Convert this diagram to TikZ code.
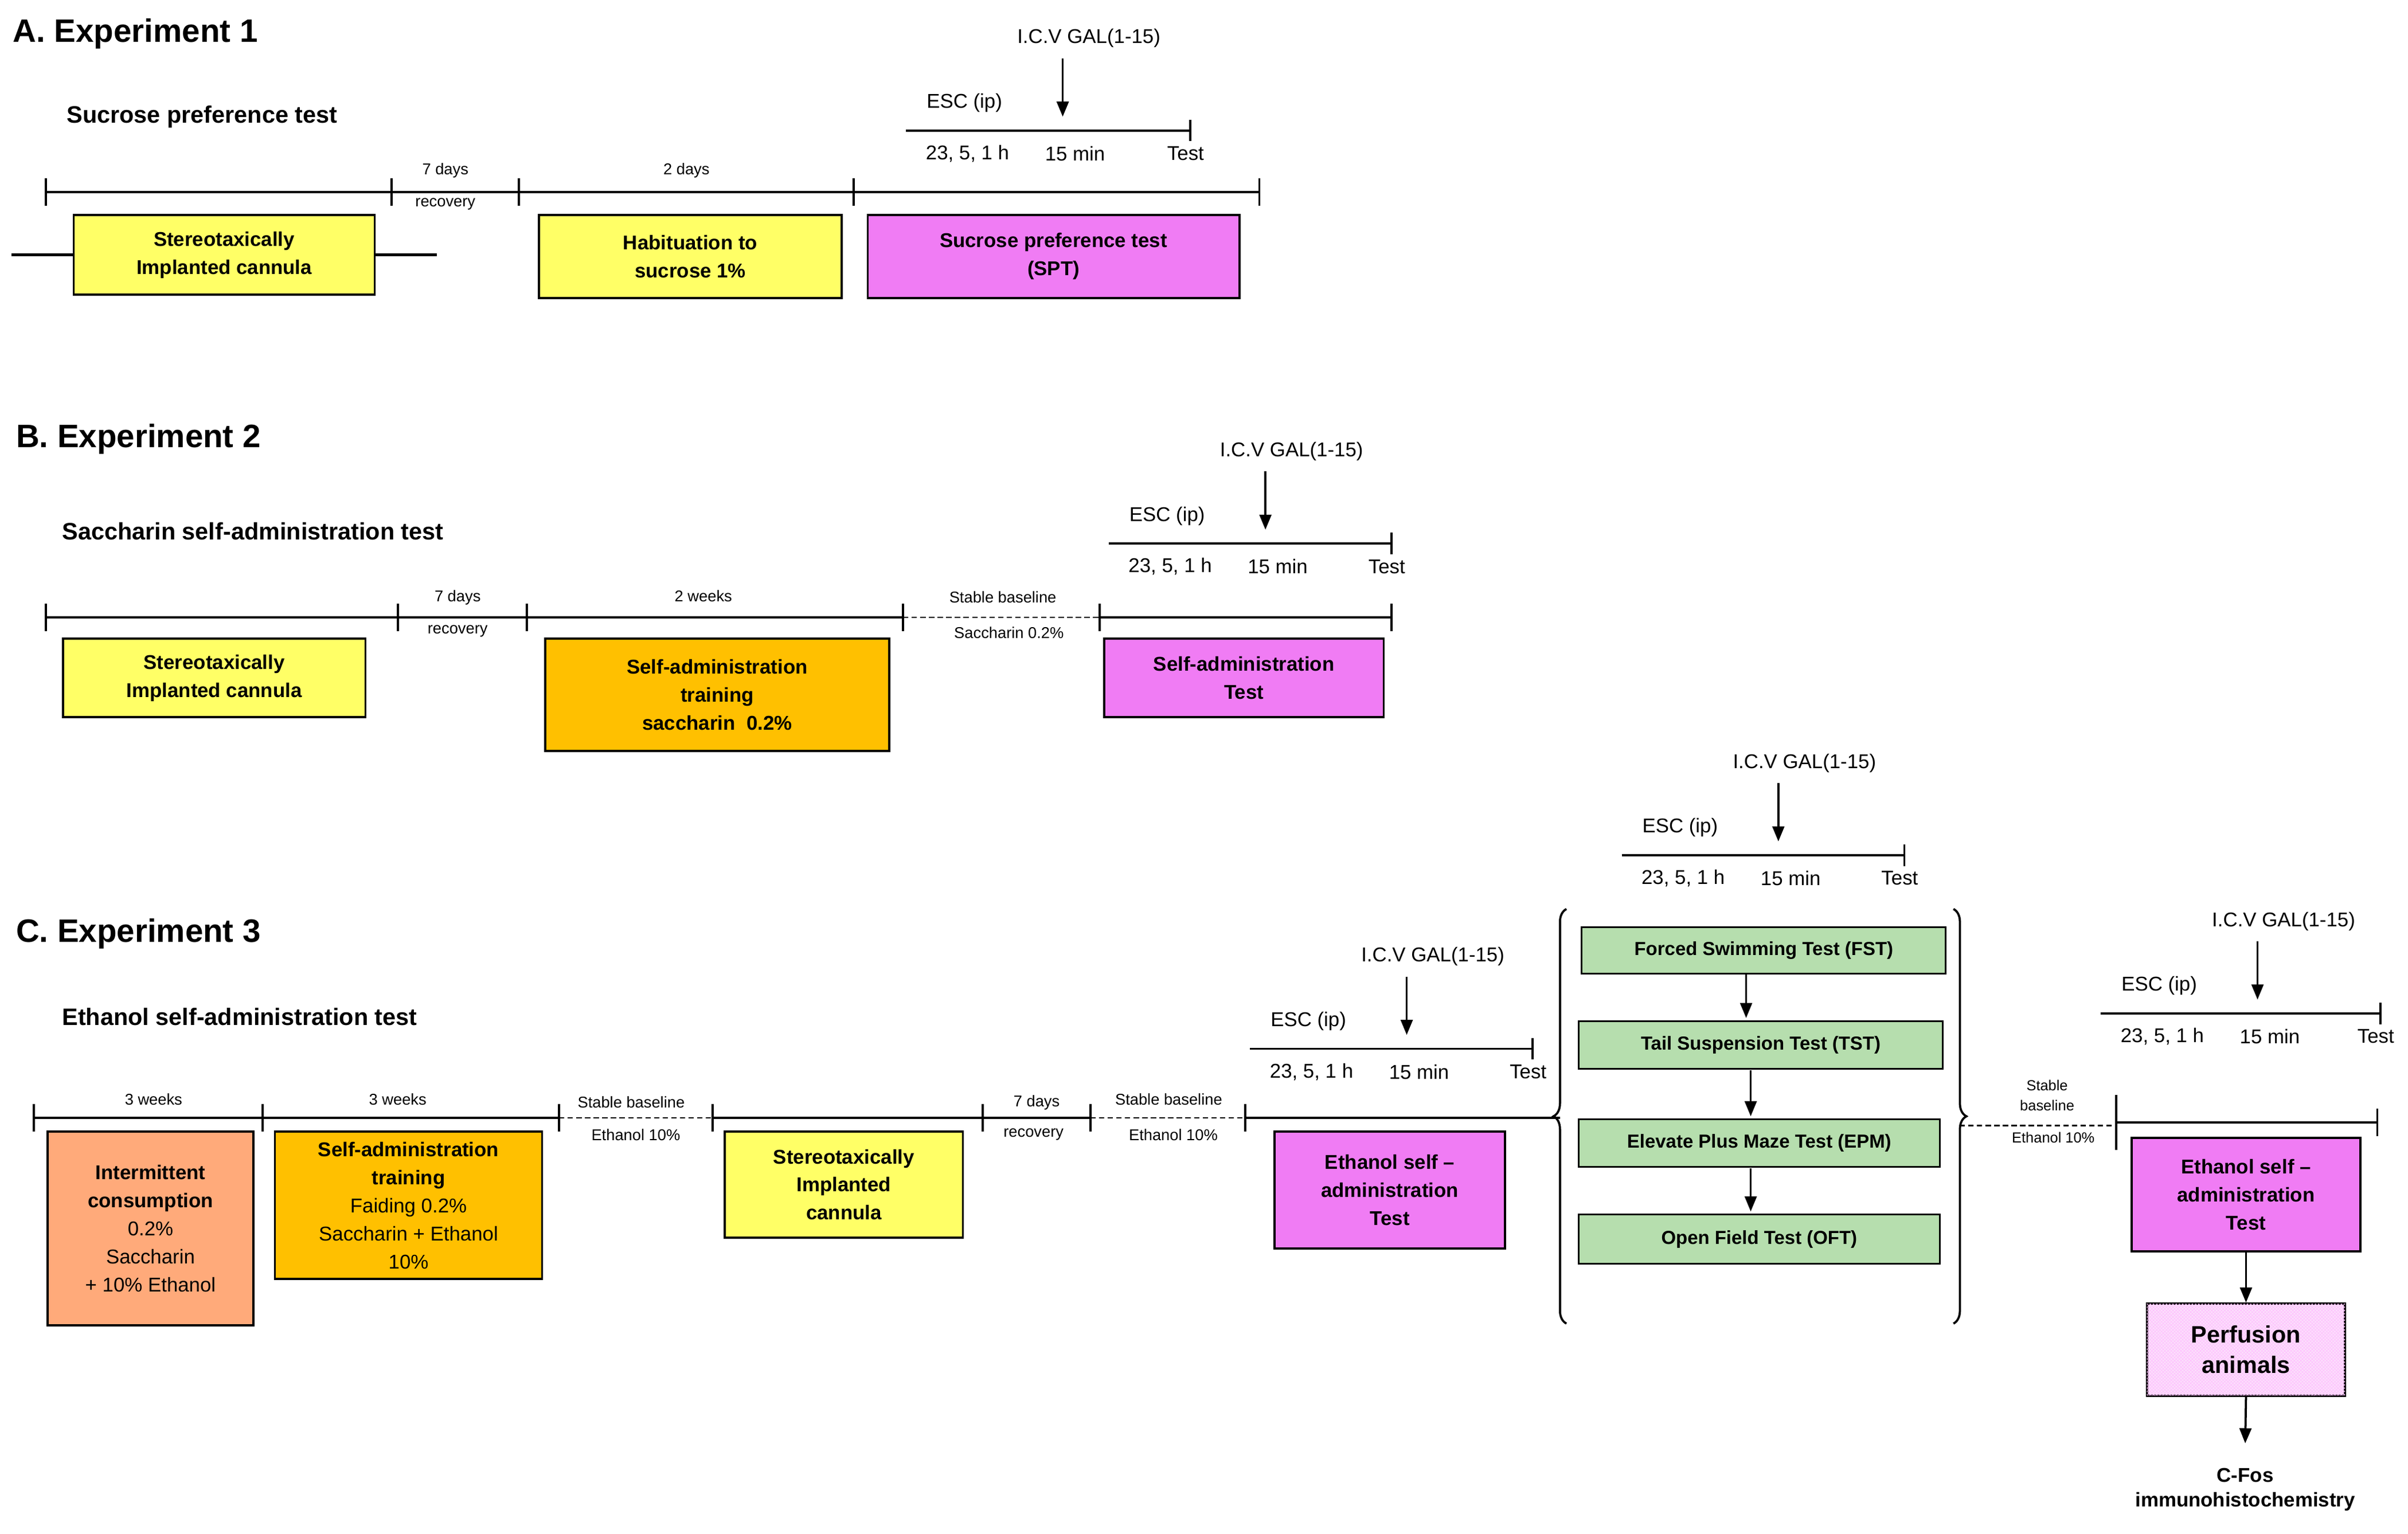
\documentclass[tikz,border=0pt]{standalone}
\usepackage{fontspec}
\setmainfont{Liberation Sans}
\usetikzlibrary{decorations.pathreplacing,patterns,arrows.meta}
\definecolor{cyel}{HTML}{FFFF66}
\definecolor{cmag}{HTML}{F07CF4}
\definecolor{cora}{HTML}{FFC000}
\definecolor{csal}{HTML}{FFAA7A}
\definecolor{cgrn}{HTML}{B6DEAE}
\definecolor{cpnk}{HTML}{FBE0FB}
\tikzset{
 box/.style={draw,line width=2pt,align=center,font=\fontsize{18.5}{26}\selectfont\bfseries,inner sep=0pt},
 gbox/.style={draw,line width=1.6pt,fill=cgrn,align=center,font=\fontsize{17.5}{22}\selectfont\bfseries,inner sep=0pt},
 tl/.style={line width=2pt},
 dl/.style={line width=1.2pt,dash pattern=on 5pt off 3pt},
 sm/.style={font=\fontsize{14.5}{17}\selectfont},
 md/.style={font=\fontsize{18.5}{22}\selectfont},
 ttl/.style={font=\fontsize{30}{34}\selectfont\bfseries,anchor=west},
 sub/.style={font=\fontsize{22}{26}\selectfont\bfseries,anchor=west},
 arr/.style={line width=2pt,-{Triangle[length=14pt,width=11pt]}},
}
\newcommand{\myinset}[4]{% name, xstart, y, xend
 \coordinate (#1s) at (#2,#3); \coordinate (#1e) at (#4,#3);
 \draw[tl] (#1s) -- (#1e);
 \draw[tl] ($(#1e)+(0,-7)$) -- ($(#1e)+(0,7)$);
 \node[md] (#1esc) at ($(#1s)+(38,-18)$) {ESC (ip)};
 \coordinate (#1a) at ($(#1s)+(102,-47)$); \coordinate (#1b) at ($(#1s)+(102,-9)$);
 \draw[arr] (#1a) -- (#1b);
 \node[md] (#1icv) at ($(#1s)+(119,-60)$) {I.C.V GAL(1-15)};
 \node[md] (#1t1) at ($(#1s)+(40,15)$) {23, 5, 1 h};
 \node[md] (#1t2) at ($(#1s)+(110,15)$) {15 min};
 \node[md] (#1t3) at ($(#1e)+(-3,15)$) {Test};
}
\newcommand{\tick}[1]{\draw[tl] ($(#1)+(0,-9)$) -- ($(#1)+(0,9)$);}
\usetikzlibrary{calc}
\begin{document}
\begin{tikzpicture}[x=0.05cm,y=-0.05cm]
\useasboundingbox (0,0) rectangle (1568,999);
\fill[white] (0,0) rectangle (1568,999);
% ---------- A
\node[ttl] (tA) at (6,22) {A. Experiment 1};
\node[sub] (sA) at (41,76) {Sucrose preference test};
\foreach \n/\x in {a1/30,a2/255,a3/338,a4/556,a5/820}{\coordinate (\n) at (\x,125); \tick{\n}}
\draw[tl] (a1) -- (a5);
\node[sm] (ad) at (290,111) {7 days};
\node[sm] (ar) at (290,133) {recovery};
\node[sm] (a2d) at (447,111) {2 days};
\node[box,fill=cyel,minimum width=196\pgflinewidth] (A1) at (146,166) {};
\node[box,fill=cyel] (A1) [minimum width=9.8cm,minimum height=2.6cm] at (146,166) {Stereotaxically\\Implanted cannula};
\node[box,fill=cyel,minimum width=9.85cm,minimum height=2.7cm] (A2) at (449.5,167) {Habituation to\\sucrose 1\%};
\node[box,fill=cmag,minimum width=12.1cm,minimum height=2.7cm] (A3) at (686,167) {Sucrose preference test\\(SPT)};
\myinset{iA}{590}{85}{775}
% ---------- B
\node[ttl] (tB) at (8,286) {B. Experiment 2};
\node[sub] (sB) at (38,346) {Saccharin self-administration test};
\foreach \n/\x in {b1/30,b2/259,b3/343,b4/588,b5/716,b6/906}{\coordinate (\n) at (\x,402); \tick{\n}}
\draw[tl] (b1) -- (b4); \draw[dl] (b4) -- (b5); \draw[tl] (b5) -- (b6);
\node[sm] (bd) at (298,389) {7 days};
\node[sm] (br) at (298,411) {recovery};
\node[sm] (bw) at (458,388) {2 weeks};
\node[sm] (bs) at (653,389) {Stable baseline};
\node[sm] (bsa) at (657,412) {Saccharin 0.2\%};
\node[box,fill=cyel,minimum width=9.85cm,minimum height=2.55cm] (B1) at (139.5,441.5) {Stereotaxically\\Implanted cannula};
\node[box,fill=cora,minimum width=11.2cm,minimum height=3.65cm] (B2) at (467,452.5) {Self-administration\\training\\saccharin\ \ 0.2\%};
\node[box,fill=cmag,minimum width=9.1cm,minimum height=2.55cm] (B3) at (810,441.5) {Self-administration\\Test};
\myinset{iB}{722}{354}{906}
% ---------- C
\node[ttl] (tC) at (8,608) {C. Experiment 3};
\node[sub] (sC) at (38,662) {Ethanol self-administration test};
\foreach \n/\x in {c1/22,c2/171,c3/364,c4/464,c5/640,c6/710,c7/811}{\coordinate (\n) at (\x,728); \tick{\n}}
\coordinate (c8) at (1016,728);
\draw[tl] (c1) -- (c3); \draw[dl] (c3) -- (c4); \draw[tl] (c4) -- (c6); \draw[dl] (c6) -- (c7); \draw[tl] (c7) -- (c8);
\node[sm] (cw1) at (100,716) {3 weeks};
\node[sm] (cw2) at (259,716) {3 weeks};
\node[sm] (cs1) at (411,718) {Stable baseline};
\node[sm] (ce1) at (414,739) {Ethanol 10\%};
\node[sm] (cd) at (675,718) {7 days};
\node[sm] (cr) at (673,739) {recovery};
\node[sm] (cs2) at (761,716) {Stable baseline};
\node[sm] (ce2) at (764,739) {Ethanol 10\%};
\node[box,fill=csal,minimum width=6.7cm,minimum height=6.3cm] (C1) at (98,800) {Intermittent\\consumption\\{\mdseries 0.2\%}\\{\mdseries Saccharin}\\{\mdseries + 10\% Ethanol}};
\node[box,fill=cora,minimum width=8.7cm,minimum height=4.8cm] (C2) at (266,785) {Self-administration\\training\\{\mdseries Faiding 0.2\%}\\{\mdseries Saccharin + Ethanol}\\{\mdseries 10\%}};
\node[box,fill=cyel,minimum width=7.75cm,minimum height=3.45cm] (C3) at (549.5,771.5) {Stereotaxically\\Implanted\\cannula};
\node[box,fill=cmag,minimum width=7.5cm,minimum height=3.8cm] (C4) at (905,775) {Ethanol self --\\administration\\Test};
\myinset{iC}{814}{683}{998}
% braces
\coordinate (bl1) at (1020,862); \coordinate (bl2) at (1020,592);
\coordinate (br1) at (1272,592); \coordinate (br2) at (1272,862);
\draw[line width=2pt,decorate,decoration={brace,amplitude=12pt,aspect=0.5}] (bl1) -- (bl2);
\draw[line width=2pt,decorate,decoration={brace,amplitude=12pt,aspect=0.5}] (br1) -- (br2);
\node[gbox,minimum width=11.85cm,minimum height=1.5cm] (G1) at (1148.5,619) {Forced Swimming Test (FST)};
\node[gbox,minimum width=11.85cm,minimum height=1.55cm] (G2) at (1146.5,680.5) {Tail Suspension Test (TST)};
\node[gbox,minimum width=11.75cm,minimum height=1.55cm] (G3) at (1145.5,744.5) {Elevate Plus Maze Test (EPM)};
\node[gbox,minimum width=11.75cm,minimum height=1.6cm] (G4) at (1145.5,807) {Open Field Test (OFT)};
\draw[arr] (1137,634) -- (1137,663);
\draw[arr] (1140,697) -- (1140,727);
\draw[arr] (1140,761) -- (1140,789);
\myinset{iD}{1056}{557}{1240}
% final segment
\coordinate (d1) at (1276,733); \coordinate (d2) at (1378,733); \coordinate (d3) at (1548,731);
\draw[dl] (d1) -- (d2);
\draw[tl] (1378,731) -- (d3); \tick{d3} \draw[tl] (1378,713) -- (1378,749);
\node[font=\fontsize{13.5}{15}\selectfont] (ds) at (1333,707) {Stable};
\node[font=\fontsize{13.5}{15}\selectfont] (db) at (1333,720) {baseline};
\node[font=\fontsize{13.5}{15}\selectfont] (de) at (1337,741) {Ethanol 10\%};
\node[box,fill=cmag,minimum width=7.45cm,minimum height=3.7cm] (D1) at (1462.5,778) {Ethanol self --\\administration\\Test};
\node[box,fill=cpnk,minimum width=6.45cm,minimum height=3cm,font=\fontsize{22}{28}\selectfont\bfseries,postaction={pattern=crosshatch,pattern color=magenta!25}] (D2) at (1462.5,879) {Perfusion\\animals};
\node[font=\fontsize{18.5}{23}\selectfont\bfseries,align=center] (D3) at (1462,970) {C-Fos\\immunohistochemistry};
\draw[arr] (D1) -- (D2);
\draw[arr] (D2.south) -- (1462,940);
\myinset{iE}{1368}{660}{1550}
\end{tikzpicture}
\end{document}
